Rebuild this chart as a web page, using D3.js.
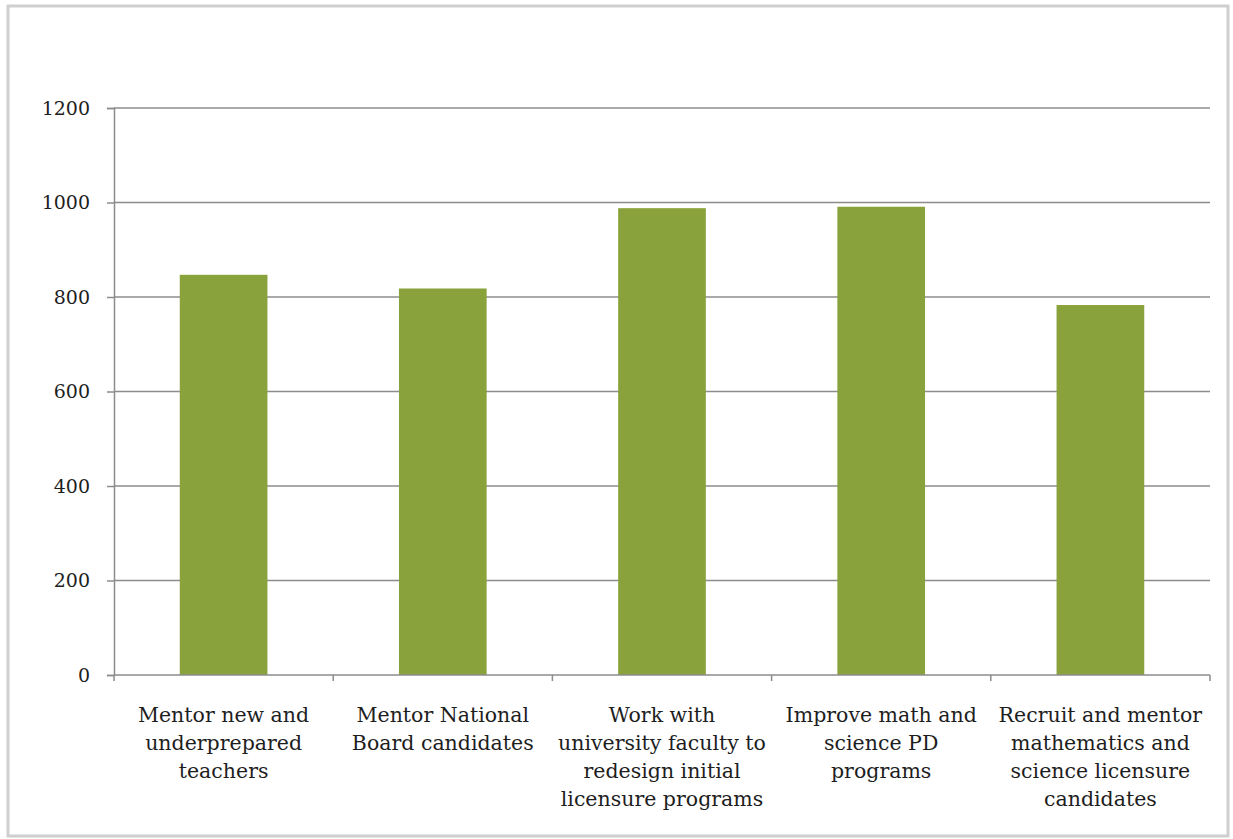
<!DOCTYPE html>
<html><head><meta charset="utf-8">
<script src="https://cdn.jsdelivr.net/npm/d3@7"></script>
<style>
html,body{margin:0;padding:0;background:#fff;}
svg{display:block;}
text{font-family:"DejaVu Serif","Liberation Serif",serif;fill:#1e1e1e;}
</style></head><body>
<svg id="chart" width="1233" height="839"></svg>
<script>
const categories = [
  ["Mentor new and","underprepared","teachers"],
  ["Mentor National","Board candidates"],
  ["Work with","university faculty to","redesign initial","licensure programs"],
  ["Improve math and","science PD","programs"],
  ["Recruit and mentor","mathematics and","science licensure","candidates"]
];
const values = [847, 818, 988, 991, 783];
const yTicks = [0, 200, 400, 600, 800, 1000, 1200];

const svg = d3.select("#chart");
const m = {left:114, right:1210, top:108, bottom:675};

svg.append("rect").attr("x",8).attr("y",6).attr("width",1220).attr("height",830)
  .attr("fill","#fff").attr("stroke","#cfcfcf").attr("stroke-width",3);

const x = d3.scaleBand().domain(d3.range(categories.length)).range([m.left,m.right]).paddingInner(0.6).paddingOuter(0.3);
const y = d3.scaleLinear().domain([0,1200]).range([m.bottom,m.top]);

// gridlines
svg.append("g").selectAll("line").data(yTicks.filter(d=>d>0)).join("line")
  .attr("x1",m.left).attr("x2",m.right).attr("y1",d=>y(d)).attr("y2",d=>y(d))
  .attr("stroke","#8c8c8c").attr("stroke-width",1.5);

// y axis
const yAxis = d3.axisLeft(y).tickValues(yTicks).tickSize(7).tickPadding(17).tickFormat(d3.format("d"));
const gy = svg.append("g").attr("transform",`translate(${m.left},0)`).call(yAxis);
gy.select(".domain").attr("stroke","#8c8c8c").attr("stroke-width",1.5);
gy.selectAll(".tick line").attr("stroke","#8c8c8c").attr("stroke-width",1.5);
gy.selectAll(".tick text").attr("font-size",19).attr("fill","#1e1e1e")
  .style("font-family","'DejaVu Serif',serif");

// bars
svg.append("g").selectAll("rect").data(values).join("rect")
  .attr("x",(d,i)=>x(i)).attr("width",x.bandwidth())
  .attr("y",d=>y(d)).attr("height",d=>y(0)-y(d))
  .attr("fill","#8aa23b");

// x axis
svg.append("line").attr("x1",m.left).attr("x2",m.right).attr("y1",y(0)).attr("y2",y(0))
  .attr("stroke","#8c8c8c").attr("stroke-width",1.5);
const bnd = d3.range(categories.length+1).map(i=> m.left + i*(m.right-m.left)/categories.length);
svg.append("g").selectAll("line").data(bnd).join("line")
  .attr("x1",d=>d).attr("x2",d=>d).attr("y1",y(0)).attr("y2",y(0)+6)
  .attr("stroke","#8c8c8c").attr("stroke-width",1.5);

// x labels
const lab = svg.append("g");
categories.forEach((lines,i)=>{
  const cx = x(i)+x.bandwidth()/2;
  const t = lab.append("text").attr("text-anchor","middle").attr("font-size",20.5);
  lines.forEach((l,j)=>{
    t.append("tspan").attr("x", cx).attr("y", 722 + j*28).text(l);
  });
});
</script>
</body></html>
